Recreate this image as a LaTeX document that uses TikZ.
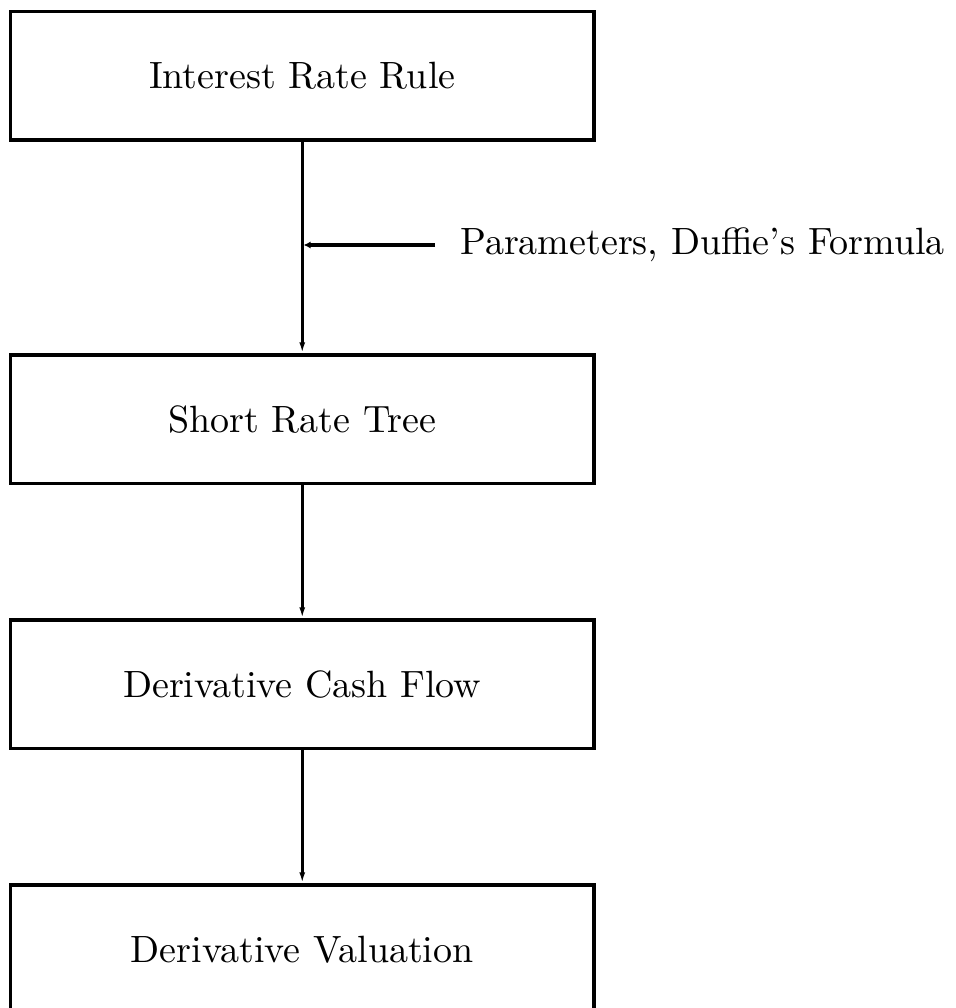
\documentclass[tikz,border=0pt]{standalone}
\usepackage{fontspec}
\newfontfamily\lmten{lmroman10-regular.otf}[Ligatures=TeX]
\usetikzlibrary{arrows.meta}
\begin{document}
\begin{tikzpicture}[x=1pt,y=-1pt,
  box/.style={draw,line width=3.5pt,minimum width=583.5pt,minimum height=128.5pt,inner sep=0pt,
    font=\lmten\fontsize{38}{45}\selectfont},
  conn/.style={line width=2.5pt,-{Latex[length=11pt,width=6pt]}},
  side/.style={line width=4pt,-{Latex[length=7pt,width=7pt]}},
  lbl/.style={inner sep=0pt,font=\lmten\fontsize{38}{45}\selectfont}]
\useasboundingbox (0,0) rectangle (955,1008);
\clip (0,0) rectangle (955,1008);
\node[box] (b1) at (302.25,75.75) {Interest Rate Rule};
\node[box] (b2) at (302.25,419.25) {Short Rate Tree};
\node[box] (b3) at (302.25,684.25) {Derivative Cash Flow};
\node[box] (b4) at (302.25,949.25) {Derivative Valuation};
\draw[conn] (b1.south) -- (b2.north);
\draw[conn] (b2.south) -- (b3.north);
\draw[conn] (b3.south) -- (b4.north);
\coordinate (s) at (435,245);
\coordinate (m) at (303.5,245);
\draw[side] (s) -- (m);
\node[lbl,anchor=west] (t) at (460,245) {Parameters, Duffie's Formula};
\end{tikzpicture}
\end{document}
